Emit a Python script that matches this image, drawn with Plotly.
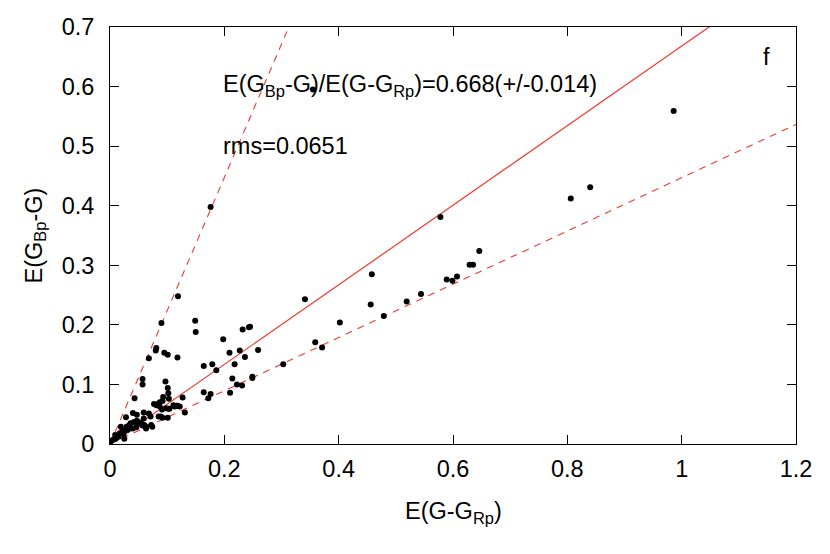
import numpy as np
import plotly.graph_objects as go

# data
x_excess = [
    0.986, 0.840, 0.806, 0.578, 0.646, 0.629, 0.635, 0.607, 0.599, 0.589,
    0.544, 0.519, 0.458, 0.456, 0.479, 0.402, 0.341, 0.359, 0.371, 0.303,
    0.259, 0.249, 0.245, 0.176, 0.119, 0.149, 0.090, 0.232, 0.243, 0.150,
    0.198, 0.209, 0.227, 0.218, 0.236, 0.164, 0.179, 0.186, 0.249, 0.081,
    0.080, 0.095, 0.101, 0.118, 0.068, 0.057, 0.057, 0.043, 0.097, 0.101,
    0.102, 0.103, 0.093, 0.087, 0.127, 0.118, 0.113, 0.131, 0.077, 0.081,
    0.087, 0.098, 0.102, 0.104, 0.091, 0.068, 0.071, 0.059, 0.085, 0.089,
    0.092, 0.101, 0.059, 0.047, 0.040, 0.028, 0.019, 0.036, 0.042, 0.047,
    0.052, 0.055, 0.057, 0.063, 0.046, 0.040, 0.033, 0.029, 0.030, 0.022,
    0.024, 0.017, 0.009, 0.010, 0.005, 0.002, 0.000, 0.072, 0.063, 0.074,
    0.060, 0.050, 0.035, 0.015, 0.025, 0.214, 0.222, 0.231, 0.164, 0.172,
    0.176, 0.210, 0.111, 0.117, 0.092, 0.084, 0.122, 0.355,
]
y_excess = [
    0.559, 0.431, 0.412, 0.381, 0.324, 0.301, 0.301, 0.281, 0.274, 0.276,
    0.252, 0.239, 0.285, 0.234, 0.215, 0.204, 0.243, 0.171, 0.162, 0.134,
    0.158, 0.111, 0.197, 0.398, 0.248, 0.207, 0.203, 0.192, 0.196, 0.188,
    0.176, 0.153, 0.157, 0.134, 0.146, 0.131, 0.134, 0.124, 0.113, 0.161,
    0.157, 0.153, 0.150, 0.145, 0.144, 0.109, 0.100, 0.077, 0.105, 0.094,
    0.085, 0.076, 0.079, 0.070, 0.078, 0.064, 0.063, 0.053, 0.067, 0.065,
    0.063, 0.060, 0.059, 0.059, 0.058, 0.051, 0.046, 0.053, 0.046, 0.046,
    0.044, 0.044, 0.043, 0.049, 0.052, 0.045, 0.029, 0.035, 0.037, 0.039,
    0.036, 0.034, 0.031, 0.029, 0.028, 0.026, 0.031, 0.029, 0.023, 0.023,
    0.017, 0.018, 0.015, 0.009, 0.007, 0.005, 0.001, 0.032, 0.026, 0.029,
    0.032, 0.034, 0.026, 0.012, 0.009, 0.110, 0.100, 0.098, 0.087, 0.077,
    0.084, 0.086, 0.065, 0.064, 0.072, 0.067, 0.063, 0.595,
]
fit_slope = 0.668
lower_slope = 0.447
upper_slope = 1 / 0.447
x_line = [0.0, 1.2]

RED = '#ee3a2c'
FONT = 'Liberation Sans, Arial, sans-serif'
TEXT_SIZE = 23.5

fig = go.Figure()
fig.add_trace(go.Scatter(
    x=x_line, y=[fit_slope * v for v in x_line], mode='lines',
    line=dict(color=RED, width=1.2),
))
for slope in (lower_slope, upper_slope):
    fig.add_trace(go.Scatter(
        x=x_line, y=[slope * v for v in x_line], mode='lines',
        line=dict(color=RED, width=1.1, dash='7px,6px'),
    ))
fig.add_trace(go.Scatter(
    x=x_excess, y=y_excess, mode='markers',
    marker=dict(color='black', size=6),
))

axis_style = dict(
    showgrid=False, zeroline=False, showline=True, linecolor='black',
    linewidth=1, mirror='allticks', ticks='inside', ticklen=9,
    tickcolor='black', tickfont=dict(size=TEXT_SIZE, color='black'),
    automargin=False,
)
fig.update_xaxes(
    range=[0, 1.2], tickvals=[0, 0.2, 0.4, 0.6, 0.8, 1, 1.2],
    ticktext=['0', '0.2', '0.4', '0.6', '0.8', '1', '1.2'],
    ticklabelstandoff=4,
    **axis_style,
)
fig.update_yaxes(
    range=[0, 0.7], tickvals=[0, 0.1, 0.2, 0.3, 0.4, 0.5, 0.6, 0.7],
    ticktext=['0', '0.1', '0.2', '0.3', '0.4', '0.5', '0.6', '0.7'],
    ticklabelstandoff=10,
    **axis_style,
)

annotations = [
    dict(x=0.195, y=0.601, text='E(G<sub>Bp</sub>-G)/E(G-G<sub>Rp</sub>)=0.668(+/-0.014)',
         xanchor='left'),
    dict(x=0.195, y=0.501, text='rms=0.0651', xanchor='left'),
    dict(x=1.138, y=0.649, text='f', xanchor='left'),
]
for ann in annotations:
    fig.add_annotation(
        xref='x', yref='y', showarrow=False, yanchor='middle',
        font=dict(size=TEXT_SIZE, color='black'), **ann,
    )

# axis titles placed as paper annotations
fig.add_annotation(
    xref='paper', yref='paper', x=0.5, y=0, yshift=-68, yanchor='middle',
    text='E(G-G<sub>Rp</sub>)', showarrow=False,
    font=dict(size=TEXT_SIZE, color='black'),
)
fig.add_annotation(
    xref='paper', yref='paper', x=0, y=0.5, xshift=-75, xanchor='center',
    text='E(G<sub>Bp</sub>-G)', showarrow=False, textangle=-90,
    font=dict(size=TEXT_SIZE, color='black'),
)

# the page body adds an 8px offset, so margins are trimmed on the top/left
fig.update_layout(
    width=830, height=554, showlegend=False,
    margin=dict(l=102, r=42, t=19, b=118),
    plot_bgcolor='white', paper_bgcolor='white',
    font=dict(family=FONT, color='black'),
)
fig.write_html('out.html')
